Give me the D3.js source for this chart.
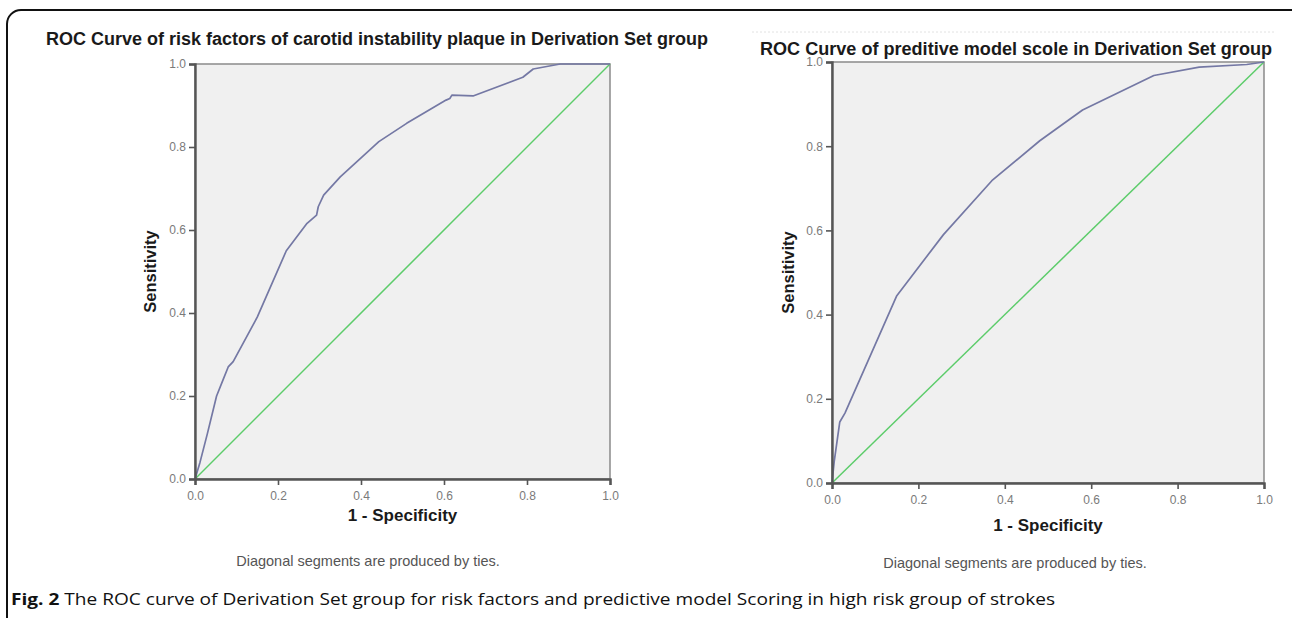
<!DOCTYPE html>
<html>
<head>
<meta charset="utf-8">
<script src="https://cdn.jsdelivr.net/npm/d3@7"></script>
<style>
  body { margin: 0; background: #fff; }
  svg { display: block; }
</style>
</head>
<body>
<div id="chart"></div>
<script>
// ROC points: [1 - specificity, sensitivity]
const rocRiskFactors = [
  [0, 0], [0.012, 0.04], [0.03, 0.11], [0.052, 0.2], [0.068, 0.24], [0.08, 0.27],
  [0.092, 0.283], [0.15, 0.39], [0.22, 0.55], [0.27, 0.616], [0.293, 0.636],
  [0.297, 0.656], [0.31, 0.684], [0.35, 0.728], [0.443, 0.813], [0.51, 0.857],
  [0.605, 0.913], [0.614, 0.917], [0.619, 0.925], [0.67, 0.923], [0.79, 0.968],
  [0.815, 0.988], [0.88, 1.0], [1, 1]
];
const rocModelScore = [
  [0, 0], [0.005, 0.05], [0.018, 0.145], [0.03, 0.166], [0.15, 0.445],
  [0.258, 0.59], [0.37, 0.718], [0.481, 0.813], [0.58, 0.886], [0.745, 0.968],
  [0.85, 0.988], [0.96, 0.994], [1, 1]
];
const reference = [[0, 0], [1, 1]];
const ticks = [0, 0.2, 0.4, 0.6, 0.8, 1.0];

const titles = [
  "ROC Curve of risk factors of carotid instability plaque in Derivation Set group",
  "ROC Curve of preditive model scole in Derivation Set group"
];
const xLabel = "1 - Specificity";
const yLabel = "Sensitivity";
const note = "Diagonal segments are produced by ties.";
const captionBold = "Fig. 2";
const captionText = " The ROC curve of Derivation Set group for risk factors and predictive model Scoring in high risk group of strokes";

const width = 1292, height = 618;
const colors = { curve: "#7478a4", diag: "#5ccc6a", bg: "#f0f0f0", axis: "#555", tick: "#7a7a7a" };

const svg = d3.select("#chart").append("svg")
  .attr("width", width).attr("height", height)
  .attr("viewBox", [0, 0, width, height])
  .style("font-family", "Arial, 'Liberation Sans', sans-serif");

// outer frame
svg.append("rect")
  .attr("x", 7).attr("y", 10).attr("width", 1300).attr("height", 700)
  .attr("rx", 14)
  .attr("fill", "none").attr("stroke", "#111").attr("stroke-width", 2);

// faint screenshot edge above the second title
svg.append("line")
  .attr("x1", 752).attr("x2", 1275).attr("y1", 32).attr("y2", 32)
  .attr("stroke", "#e2e2e2").attr("stroke-dasharray", "2,2");

const panels = [
  { data: rocRiskFactors, title: titles[0], x0: 195, x1: 610, y0: 64, y1: 479,
    titleX: 46, titleY: 45, titleW: 662, xLabY: 521, yLabX: 156, noteX: 368, noteY: 566 },
  { data: rocModelScore, title: titles[1], x0: 832, x1: 1264, y0: 62, y1: 483,
    titleX: 760, titleY: 55, titleW: 512, xLabY: 531, yLabX: 794, noteX: 1015, noteY: 568 }
];

panels.forEach(p => {
  const x = d3.scaleLinear().domain([0, 1]).range([p.x0, p.x1]);
  const y = d3.scaleLinear().domain([0, 1]).range([p.y1, p.y0]);
  const g = svg.append("g");

  g.append("rect")
    .attr("x", p.x0).attr("y", p.y0)
    .attr("width", p.x1 - p.x0).attr("height", p.y1 - p.y0)
    .attr("fill", colors.bg)
    .attr("stroke", "#8a8a8a").attr("stroke-width", 1.5);

  const line = d3.line().x(d => x(d[0])).y(d => y(d[1]));

  g.append("path").datum(reference)
    .attr("d", line).attr("fill", "none")
    .attr("stroke", colors.diag).attr("stroke-width", 1.5);

  g.append("path").datum(p.data)
    .attr("d", line).attr("fill", "none")
    .attr("stroke", colors.curve).attr("stroke-width", 1.7)
    .attr("stroke-linejoin", "round");

  const xAxis = g.append("g")
    .attr("transform", `translate(0,${p.y1})`)
    .call(d3.axisBottom(x).tickValues(ticks).tickFormat(d3.format(".1f")).tickSizeOuter(0).tickSize(6));
  const yAxis = g.append("g")
    .attr("transform", `translate(${p.x0},0)`)
    .call(d3.axisLeft(y).tickValues(ticks).tickFormat(d3.format(".1f")).tickSizeOuter(0).tickSize(6));

  [xAxis, yAxis].forEach(a => {
    a.select(".domain").attr("stroke", colors.axis).attr("stroke-width", 2.4);
    a.selectAll(".tick line").attr("stroke", colors.axis).attr("stroke-width", 1.6);
    a.selectAll(".tick text")
      .attr("fill", colors.tick)
      .style("font-size", "12px")
      .style("font-family", "Arial, 'Liberation Sans', sans-serif");
  });
  xAxis.selectAll(".tick text").attr("dy", "1em");

  g.append("text")
    .attr("x", p.titleX).attr("y", p.titleY)
    .attr("textLength", p.titleW).attr("lengthAdjust", "spacingAndGlyphs")
    .attr("font-size", 18).attr("font-weight", "bold").attr("fill", "#1a1a1a")
    .text(p.title);

  const cx = (p.x0 + p.x1) / 2, cy = (p.y0 + p.y1) / 2;
  g.append("text")
    .attr("x", cx).attr("y", p.xLabY)
    .attr("text-anchor", "middle")
    .attr("font-size", 17).attr("font-weight", "bold").attr("fill", "#1a1a1a")
    .text(xLabel);

  g.append("text")
    .attr("transform", `translate(${p.yLabX},${cy}) rotate(-90)`)
    .attr("text-anchor", "middle")
    .attr("font-size", 16.5).attr("font-weight", "bold").attr("fill", "#1a1a1a")
    .text(yLabel);

  g.append("text")
    .attr("x", p.noteX).attr("y", p.noteY)
    .attr("text-anchor", "middle")
    .attr("font-size", 14.5).attr("fill", "#555")
    .text(note);
});

// figure caption
const cap = svg.append("text")
  .attr("x", 11).attr("y", 605)
  .attr("textLength", 1044).attr("lengthAdjust", "spacingAndGlyphs")
  .attr("font-size", 16.5).attr("fill", "#111")
  .style("font-family", "'Liberation Sans Narrow', 'Open Sans', Arial, sans-serif");
cap.append("tspan").attr("font-weight", "bold").text(captionBold);
cap.append("tspan").text(captionText);
</script>
</body>
</html>
